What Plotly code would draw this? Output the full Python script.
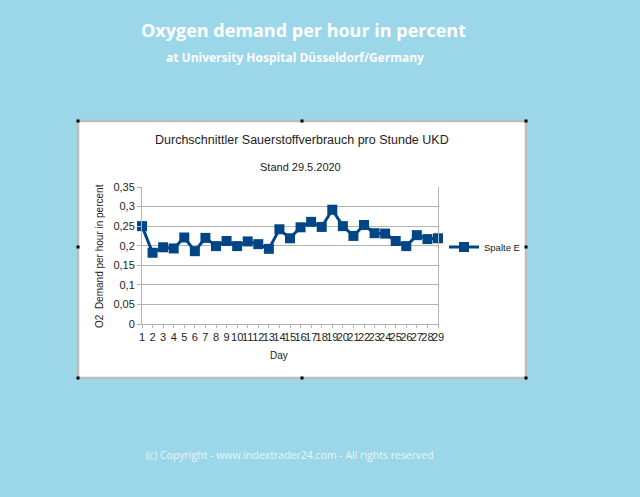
import plotly.graph_objects as go

days = list(range(1, 30))
demand = [0.250, 0.182, 0.196, 0.193, 0.221, 0.186, 0.220, 0.199, 0.212, 0.199,
          0.211, 0.204, 0.192, 0.242, 0.219, 0.247, 0.261, 0.248, 0.292, 0.250,
          0.225, 0.253, 0.232, 0.231, 0.212, 0.199, 0.227, 0.217, 0.219]
ytick_vals = [0, 0.05, 0.1, 0.15, 0.2, 0.25, 0.3, 0.35]
ytick_text = ["0", "0,05", "0,1", "0,15", "0,2", "0,25", "0,3", "0,35"]

W, H = 640, 497
L, R, T, B = 142, 438, 187, 324
pw, ph = R - L, B - T

def px(x):
    return (x - L) / pw

def py(y):
    return (B - y) / ph

fig = go.Figure()
fig.add_trace(go.Scatter(
    x=days, y=demand, mode="lines+markers", name="Spalte E",
    line=dict(color="#004586", width=3),
    marker=dict(symbol="square", size=10, color="#004586"),
    cliponaxis=False,
))

fig.add_shape(type="rect", xref="paper", yref="paper",
              x0=px(78), x1=px(526), y0=py(378), y1=py(121),
              fillcolor="white", line=dict(color="#bdbdbd", width=2.5), layer="below")

# selection handles
for hx, hy in [(78, 121), (302, 121), (526, 121), (78, 247), (526, 247),
               (78, 378), (302, 378), (526, 378)]:
    fig.add_shape(type="rect", xref="paper", yref="paper",
                  x0=px(hx - 1.5), x1=px(hx + 1.5), y0=py(hy + 1.5), y1=py(hy - 1.5),
                  fillcolor="black", line=dict(width=0), layer="above")

ann = dict(xref="paper", yref="paper", showarrow=False, xanchor="center", yanchor="middle")
fig.add_annotation(x=px(303), y=py(30), text="<b>Oxygen demand per hour in percent</b>",
                   font=dict(family="Open Sans", size=18, color="white"), **ann)
fig.add_annotation(x=px(295), y=py(57), text="<b>at University Hospital Düsseldorf/Germany</b>",
                   font=dict(family="Open Sans", size=12, color="white"), **ann)
fig.add_annotation(x=px(290), y=py(455), text="(c) Copyright - www.indextrader24.com - All rights reserved",
                   font=dict(family="Open Sans", size=10.5, color="#e6f5fa"), **ann)
fig.add_annotation(x=px(302), y=py(140), text="Durchschnittler Sauerstoffverbrauch pro Stunde UKD",
                   font=dict(family="Liberation Sans", size=12.5, color="#222"), **ann)
fig.add_annotation(x=px(300), y=py(167), text="Stand 29.5.2020",
                   font=dict(family="Liberation Sans", size=11, color="#222"), **ann)
fig.add_annotation(x=px(279), y=py(355), text="Day",
                   font=dict(family="Liberation Sans", size=10, color="#222"), **ann)
fig.add_annotation(x=px(99), y=py(256), text="O2  Demand per hour in percent", textangle=-90,
                   font=dict(family="Liberation Sans", size=10, color="#222"), **ann)

fig.update_layout(
    width=W, height=H,
    margin=dict(l=L, r=W - R, t=T, b=H - B, autoexpand=False),
    paper_bgcolor="#9cd7e9", plot_bgcolor="white",
    font=dict(family="Liberation Sans", size=11, color="#222"),
    showlegend=True,
    legend=dict(x=px(444), y=py(247), xanchor="left", yanchor="middle",
                bgcolor="rgba(0,0,0,0)", font=dict(size=9.5, color="#222"),
                itemwidth=30),
    xaxis=dict(range=[1, 29], tickmode="array", tickvals=days,
               ticktext=[str(d) for d in days], showgrid=False,
               showline=True, linecolor="#b3b3b3", ticks="outside",
               tickcolor="#b3b3b3", ticklen=3, zeroline=False,
               tickfont=dict(size=11), tickangle=0),
    yaxis=dict(range=[0, 0.35], tickmode="array", tickvals=ytick_vals,
               ticktext=ytick_text, showgrid=True, gridcolor="#b3b3b3",
               showline=True, linecolor="#b3b3b3", mirror=True, ticks="outside",
               tickcolor="#b3b3b3", ticklen=4, zeroline=False,
               tickfont=dict(size=11)),
)

fig.write_html("out.html", config={"displayModeBar": False},
               post_script="document.body.style.margin='0';")
